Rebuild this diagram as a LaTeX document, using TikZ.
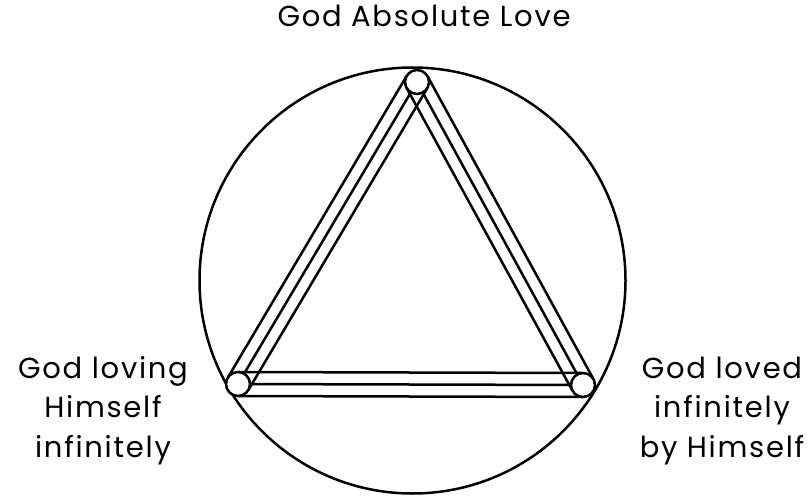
\documentclass[tikz,border=0pt]{standalone}
\usepackage{fontspec}
\setmainfont{Poppins}[LetterSpace=6]
\usetikzlibrary{positioning,calc,backgrounds}
\tikzset{
  ring/.style={draw=black, circle, line width=2.5pt, minimum size=426pt, inner sep=0pt},
  joint/.style={draw=black, fill=white, circle, line width=2.5pt, minimum size=24pt, inner sep=0pt},
  rail/.style={draw=black, line width=2.5pt},
  caption/.style={align=center, font=\fontsize{29}{39.5}\selectfont, inner sep=0pt}
}

\begin{document}
\begin{tikzpicture}[x=1pt, y=-1pt]
\useasboundingbox (0,0) rectangle (810,497);
\node[ring] (ring) at (412.5,280.5) {};
\node[joint] (apex) at (417,82) {};
\node[joint] (loving) at (238,384) {};
\node[joint] (loved) at (583,385) {};
\begin{scope}[on background layer]
% each side: a middle rail and two outer rails
\foreach \a/\b in {apex/loving, loving/loved, loved/apex} {
  \draw[rail] (\a.center) -- (\b.center);
  \draw[rail] ($(\a.center)!12pt!90:(\b.center)$) -- ($(\b.center)!12pt!-90:(\a.center)$);
  \draw[rail] ($(\a.center)!12pt!-90:(\b.center)$) -- ($(\b.center)!12pt!90:(\a.center)$);
}
\end{scope}
\node[caption, anchor=base] (absolute) at (424,27) {God Absolute Love};
\node[caption, anchor=base] (lovinglbl) at (103,457) {God loving\\Himself\\infinitely};
\node[caption, anchor=base] (lovedlbl) at (722,457) {God loved\\infinitely\\by Himself};
\end{tikzpicture}
\end{document}
